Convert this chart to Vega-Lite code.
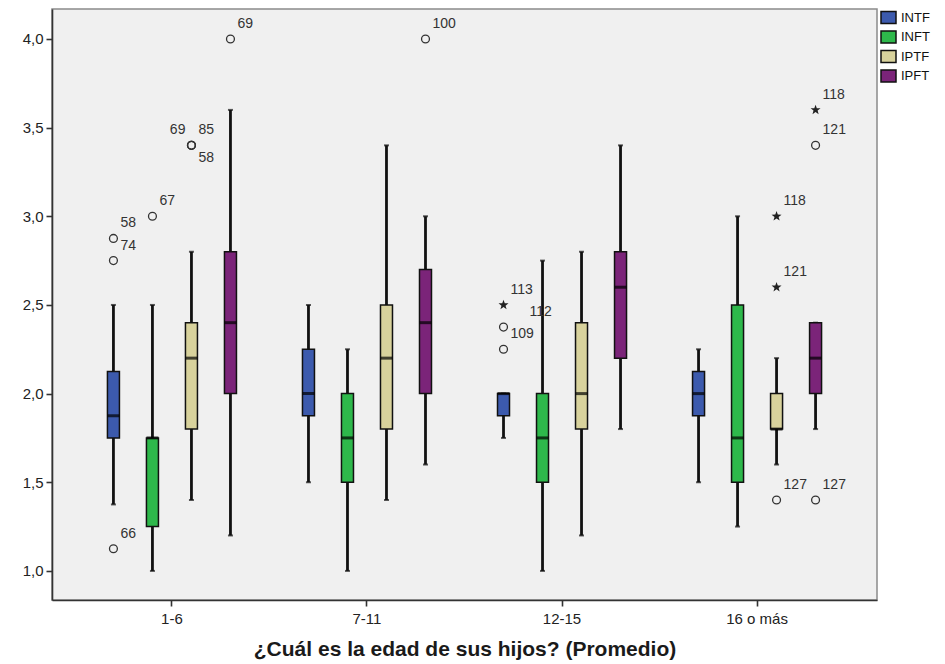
{
  "$schema": "https://vega.github.io/schema/vega-lite/v6.json",
  "autosize": {"type": "none"},
  "width": 825,
  "height": 591,
  "padding": {"left": 52, "top": 9, "right": 68, "bottom": 64},
  "background": "white",
  "config": {
    "view": {"fill": "#f0f0f0", "stroke": "#8a8a8a", "strokeWidth": 1.5},
    "font": "Liberation Sans",
    "axis": {"domainColor": "#333333", "domainWidth": 1.6, "tickColor": "#333333", "tickWidth": 1.6, "grid": false}
  },
  "datasets": {
    "cajas": [
      {"grupo": "1-6", "serie": "INTF", "min": 1.375, "q1": 1.75, "mediana": 1.875, "q3": 2.125, "max": 2.5},
      {"grupo": "1-6", "serie": "INFT", "min": 1.0, "q1": 1.25, "mediana": 1.75, "q3": 1.75, "max": 2.5},
      {"grupo": "1-6", "serie": "IPTF", "min": 1.4, "q1": 1.8, "mediana": 2.2, "q3": 2.4, "max": 2.8},
      {"grupo": "1-6", "serie": "IPFT", "min": 1.2, "q1": 2.0, "mediana": 2.4, "q3": 2.8, "max": 3.6},
      {"grupo": "7-11", "serie": "INTF", "min": 1.5, "q1": 1.875, "mediana": 2.0, "q3": 2.25, "max": 2.5},
      {"grupo": "7-11", "serie": "INFT", "min": 1.0, "q1": 1.5, "mediana": 1.75, "q3": 2.0, "max": 2.25},
      {"grupo": "7-11", "serie": "IPTF", "min": 1.4, "q1": 1.8, "mediana": 2.2, "q3": 2.5, "max": 3.4},
      {"grupo": "7-11", "serie": "IPFT", "min": 1.6, "q1": 2.0, "mediana": 2.4, "q3": 2.7, "max": 3.0},
      {"grupo": "12-15", "serie": "INTF", "min": 1.75, "q1": 1.875, "mediana": 2.0, "q3": 2.0, "max": 2.0},
      {"grupo": "12-15", "serie": "INFT", "min": 1.0, "q1": 1.5, "mediana": 1.75, "q3": 2.0, "max": 2.75},
      {"grupo": "12-15", "serie": "IPTF", "min": 1.2, "q1": 1.8, "mediana": 2.0, "q3": 2.4, "max": 2.8},
      {"grupo": "12-15", "serie": "IPFT", "min": 1.8, "q1": 2.2, "mediana": 2.6, "q3": 2.8, "max": 3.4},
      {"grupo": "16 o más", "serie": "INTF", "min": 1.5, "q1": 1.875, "mediana": 2.0, "q3": 2.125, "max": 2.25},
      {"grupo": "16 o más", "serie": "INFT", "min": 1.25, "q1": 1.5, "mediana": 1.75, "q3": 2.5, "max": 3.0},
      {"grupo": "16 o más", "serie": "IPTF", "min": 1.6, "q1": 1.8, "mediana": 1.8, "q3": 2.0, "max": 2.2},
      {"grupo": "16 o más", "serie": "IPFT", "min": 1.8, "q1": 2.0, "mediana": 2.2, "q3": 2.4, "max": 2.4}
    ],
    "atipicos": [
      {"grupo": "1-6", "serie": "INTF", "valor": 1.125, "caso": "66", "tipo": "atípico"},
      {"grupo": "1-6", "serie": "INTF", "valor": 2.75, "caso": "74", "tipo": "atípico"},
      {"grupo": "1-6", "serie": "INTF", "valor": 2.875, "caso": "58", "tipo": "atípico"},
      {"grupo": "1-6", "serie": "INFT", "valor": 3.0, "caso": "67", "tipo": "atípico"},
      {"grupo": "1-6", "serie": "IPTF", "valor": 3.4, "caso": "69", "tipo": "atípico"},
      {"grupo": "1-6", "serie": "IPTF", "valor": 3.4, "caso": "85", "tipo": "atípico"},
      {"grupo": "1-6", "serie": "IPTF", "valor": 3.4, "caso": "58", "tipo": "atípico"},
      {"grupo": "1-6", "serie": "IPFT", "valor": 4.0, "caso": "69", "tipo": "atípico"},
      {"grupo": "7-11", "serie": "IPFT", "valor": 4.0, "caso": "100", "tipo": "atípico"},
      {"grupo": "12-15", "serie": "INTF", "valor": 2.5, "caso": "113", "tipo": "extremo"},
      {"grupo": "12-15", "serie": "INTF", "valor": 2.375, "caso": "112", "tipo": "atípico"},
      {"grupo": "12-15", "serie": "INTF", "valor": 2.25, "caso": "109", "tipo": "atípico"},
      {"grupo": "16 o más", "serie": "IPTF", "valor": 3.0, "caso": "118", "tipo": "extremo"},
      {"grupo": "16 o más", "serie": "IPTF", "valor": 2.6, "caso": "121", "tipo": "extremo"},
      {"grupo": "16 o más", "serie": "IPTF", "valor": 1.4, "caso": "127", "tipo": "atípico"},
      {"grupo": "16 o más", "serie": "IPFT", "valor": 3.6, "caso": "118", "tipo": "extremo"},
      {"grupo": "16 o más", "serie": "IPFT", "valor": 3.4, "caso": "121", "tipo": "atípico"},
      {"grupo": "16 o más", "serie": "IPFT", "valor": 1.4, "caso": "127", "tipo": "atípico"}
    ]
  },
  "encoding": {
    "x": {
      "field": "grupo",
      "type": "nominal",
      "sort": ["1-6", "7-11", "12-15", "16 o más"],
      "scale": {"paddingInner": 0, "paddingOuter": 0.115},
      "axis": {
        "title": "¿Cuál es la edad de sus hijos? (Promedio)",
        "labelAngle": 0,
        "labelFontSize": 15,
        "labelColor": "#222222",
        "labelPadding": 5,
        "tickSize": 6,
        "titleFontSize": 21,
        "titleFontWeight": "bold",
        "titleColor": "#1a1a1a",
        "titlePadding": 12
      }
    },
    "xOffset": {
      "field": "serie",
      "type": "nominal",
      "sort": ["INTF", "INFT", "IPTF", "IPFT"],
      "scale": {"paddingInner": 0, "paddingOuter": 0.5}
    }
  },
  "layer": [
    {
      "data": {"name": "cajas"},
      "mark": {"type": "rule", "color": "#111111", "strokeWidth": 2.8},
      "encoding": {
        "y": {
          "field": "min",
          "type": "quantitative",
          "scale": {"domain": [0.836, 4.169], "nice": false, "zero": false},
          "axis": {
            "title": null,
            "values": [1, 1.5, 2, 2.5, 3, 3.5, 4],
            "labelExpr": "replace(format(datum.value, '.1f'), '.', ',')",
            "labelFontSize": 15,
            "labelColor": "#222222",
            "labelPadding": 3,
            "tickSize": 6
          }
        },
        "y2": {"field": "max"}
      }
    },
    {
      "data": {"name": "cajas"},
      "mark": {"type": "tick", "color": "#111111", "size": 5, "thickness": 2},
      "encoding": {"y": {"field": "min", "type": "quantitative"}}
    },
    {
      "data": {"name": "cajas"},
      "mark": {"type": "tick", "color": "#111111", "size": 5, "thickness": 2},
      "encoding": {"y": {"field": "max", "type": "quantitative"}}
    },
    {
      "data": {"name": "cajas"},
      "mark": {"type": "bar", "size": 12, "stroke": "#111111", "strokeWidth": 1.5},
      "encoding": {
        "y": {"field": "q1", "type": "quantitative"},
        "y2": {"field": "q3"},
        "color": {
          "field": "serie",
          "type": "nominal",
          "sort": ["INTF", "INFT", "IPTF", "IPFT"],
          "scale": {"domain": ["INTF", "INFT", "IPTF", "IPFT"], "range": ["#3c5aad", "#2eb84b", "#d8d29c", "#7b2479"]},
          "legend": {
            "title": null,
            "orient": "right",
            "offset": 3,
            "padding": 0,
            "symbolType": "M-1,-0.8H1V0.8H-1Z",
            "symbolSize": 225,
            "symbolStrokeColor": "#111111",
            "symbolStrokeWidth": 1.5,
            "symbolOpacity": 1,
            "labelFontSize": 13,
            "labelColor": "#111111",
            "labelOffset": 4,
            "rowPadding": 0.5
          }
        }
      }
    },
    {
      "data": {"name": "cajas"},
      "mark": {"type": "tick", "color": "#000000", "size": 12, "thickness": 3},
      "encoding": {"y": {"field": "mediana", "type": "quantitative"}}
    },
    {
      "data": {"name": "atipicos"},
      "transform": [{"filter": "datum.tipo === 'atípico'"}],
      "mark": {"type": "point", "shape": "circle", "filled": false, "size": 62, "stroke": "#333333", "strokeWidth": 1.3, "opacity": 1},
      "encoding": {"y": {"field": "valor", "type": "quantitative"}}
    },
    {
      "data": {"name": "atipicos"},
      "transform": [{"filter": "datum.tipo === 'extremo'"}],
      "mark": {
        "type": "point",
        "shape": "M0,-1L0.24,-0.33L0.95,-0.31L0.39,0.13L0.59,0.81L0,0.41L-0.59,0.81L-0.39,0.13L-0.95,-0.31L-0.24,-0.33Z",
        "filled": true,
        "size": 110,
        "color": "#222222",
        "opacity": 1
      },
      "encoding": {"y": {"field": "valor", "type": "quantitative"}}
    },
    {
      "data": {"name": "atipicos"},
      "transform": [{"filter": "!(datum.grupo === '1-6' && datum.serie === 'IPTF' && (datum.caso === '69' || datum.caso === '58')) && datum.caso !== '112'"}],
      "mark": {"type": "text", "align": "left", "baseline": "middle", "dx": 7, "dy": -15, "fontSize": 14, "color": "#333333"},
      "encoding": {"y": {"field": "valor", "type": "quantitative"}, "text": {"field": "caso"}}
    },
    {
      "data": {"name": "atipicos"},
      "transform": [{"filter": "datum.grupo === '1-6' && datum.serie === 'IPTF' && datum.caso === '69'"}],
      "mark": {"type": "text", "align": "right", "baseline": "middle", "dx": -6, "dy": -15, "fontSize": 14, "color": "#333333"},
      "encoding": {"y": {"field": "valor", "type": "quantitative"}, "text": {"field": "caso"}}
    },
    {
      "data": {"name": "atipicos"},
      "transform": [{"filter": "datum.grupo === '1-6' && datum.serie === 'IPTF' && datum.caso === '58'"}],
      "mark": {"type": "text", "align": "left", "baseline": "middle", "dx": 7, "dy": 13, "fontSize": 14, "color": "#333333"},
      "encoding": {"y": {"field": "valor", "type": "quantitative"}, "text": {"field": "caso"}}
    },
    {
      "data": {"name": "atipicos"},
      "transform": [{"filter": "datum.caso === '112'"}],
      "mark": {"type": "text", "align": "left", "baseline": "middle", "dx": 26, "dy": -15, "fontSize": 14, "color": "#333333"},
      "encoding": {"y": {"field": "valor", "type": "quantitative"}, "text": {"field": "caso"}}
    }
  ]
}
